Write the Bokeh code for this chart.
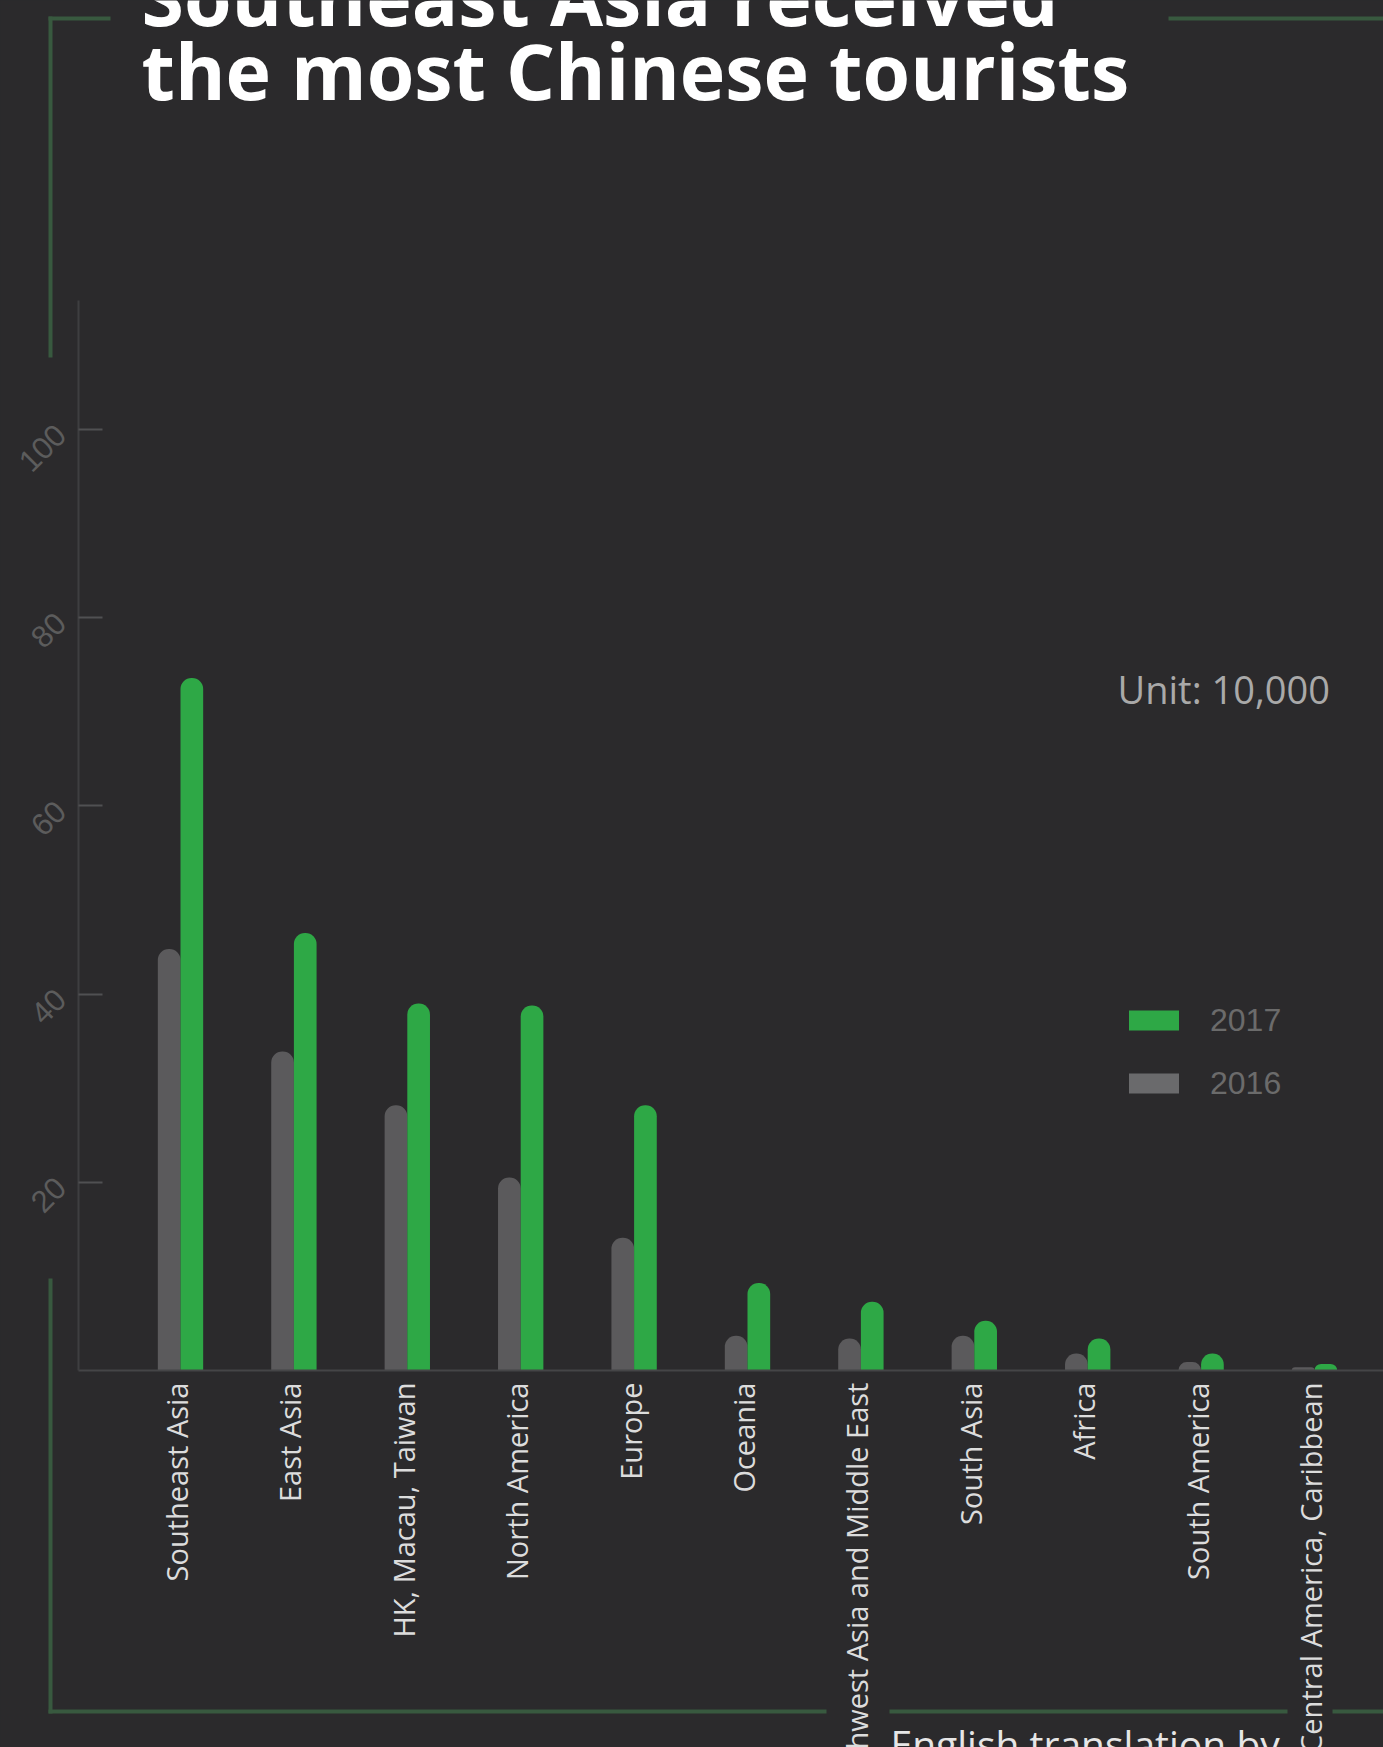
import math
from bokeh.plotting import figure
from bokeh.models import (Range1d, FixedTicker, ColumnDataSource, LabelSet, Label,
                          BoxAnnotation, Legend, LegendItem, GlobalInlineStyleSheet)
from bokeh.transform import dodge
from bokeh.core.properties import value
from bokeh.embed import file_html
from bokeh.resources import INLINE

# ---------------- data ----------------
regions = ["Southeast Asia", "East Asia", "HK, Macau, Taiwan", "North America", "Europe",
           "Oceania", "Northwest Asia and Middle East", "South Asia", "Africa",
           "South America", "Central America, Caribbean"]
visitors_2016 = [44.8, 33.9, 28.2, 20.5, 14.1, 3.7, 3.4, 3.7, 1.8, 0.9, 0.35]
visitors_2017 = [73.6, 46.5, 39.0, 38.8, 28.2, 9.3, 7.3, 5.3, 3.4, 1.8, 0.7]
y_ticks = [20, 40, 60, 80, 100]
series_names = ["2017", "2016"]
title_lines = ["Southeast Asia received", "the most Chinese tourists"]
unit_text = "Unit: 10,000"
credit_text = "English translation by"

# ---------------- styles ----------------
BG = "#2b2a2c"
GREEN = "#2ea846"
GRAY = "#5b5a5c"
FRAME = "#38593f"
W, H = 1383, 1747

X0, X1 = -1.5873, 10.6085       # full canvas width in category units
Y0, Y1 = -40.06, 145.59         # full canvas height in value units
AXIS_X = -0.8995                # where the value axis stands
AXIS_TOP = 113.7

source = ColumnDataSource(dict(
    pos=list(range(len(regions))),
    region=regions,
    v2016=visitors_2016,
    v2017=visitors_2017,
))

p = figure(width=W, height=H,
           x_range=Range1d(X0, X1), y_range=Range1d(Y0, Y1),
           output_backend="svg", toolbar_location=None,
           min_border_left=0, min_border_right=0, min_border_top=0, min_border_bottom=0,
           background_fill_color=BG, border_fill_color=BG, outline_line_color=None)
p.stylesheets = [GlobalInlineStyleSheet(css="html, body { background-color: #2b2a2c; }")]

p.xgrid.visible = False
p.ygrid.visible = False

# x axis: only the baseline, fixed at value 0
p.xaxis.fixed_location = 0
p.xaxis.bounds = (AXIS_X, X1)
p.xaxis.ticker = FixedTicker(ticks=[])
p.xaxis.major_label_text_font_size = "0px"
p.xaxis.major_tick_line_color = None
p.xaxis.minor_tick_line_color = None
p.xaxis.axis_line_color = "#454547"
p.xaxis.axis_line_width = 2

# y axis
p.yaxis.fixed_location = AXIS_X
p.yaxis.bounds = (0, AXIS_TOP)
p.yaxis.ticker = FixedTicker(ticks=y_ticks)
p.yaxis.major_tick_in = 24
p.yaxis.major_tick_out = 0
p.yaxis.minor_tick_line_color = None
p.yaxis.major_tick_line_color = "#505052"
p.yaxis.major_tick_line_width = 2
p.yaxis.axis_line_color = "#3e3e40"
p.yaxis.axis_line_width = 2
p.yaxis.major_label_orientation = math.pi / 4
p.yaxis.major_label_text_font = "Liberation Sans"
p.yaxis.major_label_text_font_size = "31px"
p.yaxis.major_label_text_color = "#5c5c5c"
p.yaxis.major_label_standoff = 18

# decorative frame (screen units, origin at bottom-left of the canvas)
frame_segments = [
    (48, 110, 1727, 1731), (1168, 1383, 1727, 1731),
    (48, 52, 1390, 1731), (48, 52, 34, 469),
    (48, 826, 34, 38), (889, 1287, 34, 38), (1332, 1383, 34, 38),
]
for l, r, b, t in frame_segments:
    p.add_layout(BoxAnnotation(left=l, right=r, bottom=b, top=t,
                               left_units="screen", right_units="screen",
                               bottom_units="screen", top_units="screen",
                               fill_color=FRAME, fill_alpha=1.0, line_color=None,
                               level="underlay"))

# bars
p.vbar(x=dodge("pos", -0.1), top="v2016", width=0.2, source=source,
       fill_color=GRAY, line_color=None, border_radius=(11, 11, 0, 0))
p.vbar(x=dodge("pos", 0.1), top="v2017", width=0.2, source=source,
       fill_color=GREEN, line_color=None, border_radius=(11, 11, 0, 0))

# category labels
p.add_layout(LabelSet(x="pos", y=0, text="region", source=source,
                      angle=90, angle_units="deg", text_align="right", text_baseline="middle",
                      x_offset=-4, y_offset=-12,
                      text_font=value("Open Sans"), text_font_size="29px",
                      text_color="#dcdcdc"))

# legend markers (hidden series lines give the legend glyphs)
r17 = p.line(x="pos", y="v2017", source=source, line_color=GREEN, line_width=20,
             line_cap="round", visible=False)
r16 = p.line(x="pos", y="v2016", source=source, line_color="#6a6a6c", line_width=20,
             line_cap="round", visible=False)
legend = Legend(items=[LegendItem(label=series_names[0], renderers=[r17]),
                       LegendItem(label=series_names[1], renderers=[r16])],
                location=(1129, 645), glyph_width=50, glyph_height=38, label_height=38,
                label_standoff=31, spacing=25, padding=0, margin=0,
                border_line_alpha=0, background_fill_alpha=0, inactive_fill_alpha=0,
                label_text_font="Liberation Sans", label_text_font_size="32px",
                label_text_color="#6b6b6b", click_policy="none")
p.add_layout(legend)

# texts
p.add_layout(Label(x=141, y=1751, x_units="screen", y_units="screen", text=title_lines[0],
                   text_font="Open Sans", text_font_style="bold", text_font_size="77px",
                   text_color="#ffffff", text_baseline="middle"))
p.add_layout(Label(x=141, y=1677, x_units="screen", y_units="screen", text=title_lines[1],
                   text_font="Open Sans", text_font_style="bold", text_font_size="77px",
                   text_color="#ffffff", text_baseline="middle"))
p.add_layout(Label(x=1117, y=1059, x_units="screen", y_units="screen", text=unit_text,
                   text_font="Open Sans", text_font_size="38px",
                   text_color="#a9a9a9", text_baseline="middle"))
p.add_layout(Label(x=890, y=4, x_units="screen", y_units="screen", text=credit_text,
                   text_font="Open Sans", text_font_size="39px",
                   text_color="#e6e6e6", text_baseline="middle"))

open("out.html", "w").write(file_html(p, INLINE))
